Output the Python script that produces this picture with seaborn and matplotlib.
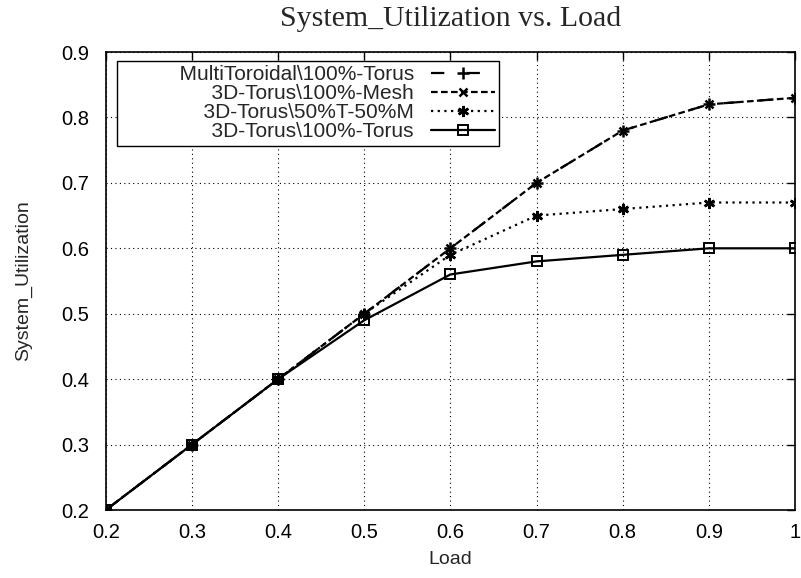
import matplotlib
matplotlib.use("Agg")
import matplotlib.pyplot as plt
import seaborn as sns
import pandas as pd

# data
load = [0.2, 0.3, 0.4, 0.5, 0.6, 0.7, 0.8, 0.9, 1.0]
multi_torus = [0.2, 0.3, 0.4, 0.5, 0.6, 0.7, 0.78, 0.82, 0.83]
torus_mesh = [0.2, 0.3, 0.4, 0.5, 0.6, 0.7, 0.78, 0.82, 0.83]
torus_mixed = [0.2, 0.3, 0.4, 0.5, 0.59, 0.65, 0.66, 0.67, 0.67]
torus_torus = [0.2, 0.3, 0.4, 0.49, 0.56, 0.58, 0.59, 0.6, 0.6]
labels = ["MultiToroidal\\100%-Torus", "3D-Torus\\100%-Mesh",
          "3D-Torus\\50%T-50%M", "3D-Torus\\100%-Torus"]
xticks = [0.2, 0.3, 0.4, 0.5, 0.6, 0.7, 0.8, 0.9, 1.0]
xticklabels = ["0.2", "0.3", "0.4", "0.5", "0.6", "0.7", "0.8", "0.9", "1"]
yticks = [0.2, 0.3, 0.4, 0.5, 0.6, 0.7, 0.8, 0.9]

sns.set_style("white")
plt.rcParams['font.family'] = ['Liberation Sans', 'DejaVu Sans']

fig = plt.figure(figsize=(8.01, 5.78), dpi=100)
ax = fig.add_axes([0.132, 0.1176, 0.8605, 0.7924])

styles = [
    dict(linestyle=(0, (6, 10)), marker='+', markersize=9, mew=1.8, fillstyle='none'),
    dict(linestyle=(0, (3, 1.5)), marker='x', markersize=6, mew=1.8, fillstyle='none'),
    dict(linestyle=(0, (1, 2)), marker=(6, 2, 0), markersize=8, mew=1.8),
    dict(linestyle='-', marker='s', markersize=7, mew=1.4, fillstyle='none'),
]
series = [multi_torus, torus_mesh, torus_mixed, torus_torus]
pad = " " * 10  # gnuplot key leaves room on the left of the text
for vals, lab, st in zip(series, labels, styles):
    df = pd.DataFrame({"Load": load, "System_Utilization": vals})
    sns.lineplot(data=df, x="Load", y="System_Utilization", ax=ax, color='black',
                 lw=1.6, label=pad + lab, mec='black', **st)

ax.set_xlim(0.2, 1.0)
ax.set_ylim(0.2, 0.9)
ax.set_xticks(xticks)
ax.set_xticklabels(xticklabels)
ax.set_yticks(yticks)
ax.tick_params(direction='in', length=6, width=1, top=True, right=True,
               labelsize=14.5, colors='black')
ax.tick_params(axis='x', pad=9)
ax.tick_params(axis='y', pad=12)
ax.grid(True, linestyle=(0, (1, 3)), color='black', lw=0.8)
for s in ax.spines.values():
    s.set_color('black')
    s.set_linewidth(1.2)

ax.set_xlabel("Load", fontsize=14, labelpad=7)
ax.set_ylabel("System_Utilization", fontsize=14, labelpad=21)
ax.set_title("System_Utilization vs. Load", fontsize=21.5,
             family=['Liberation Serif', 'DejaVu Serif'], pad=19)

leg = ax.legend(loc='upper left', bbox_to_anchor=(0.017, 0.98), markerfirst=False,
                fontsize=15, handlelength=3.1, frameon=True, fancybox=False,
                labelspacing=0.0, borderpad=0.2, handletextpad=0.8,
                borderaxespad=0)
leg.get_frame().set_edgecolor('black')
leg.get_frame().set_linewidth(1.0)
leg.get_frame().set_alpha(1)
for t in leg.get_texts():
    t.set_ha('right')
leg._legend_box.align = "right"

fig.savefig("out.png", dpi=100)
